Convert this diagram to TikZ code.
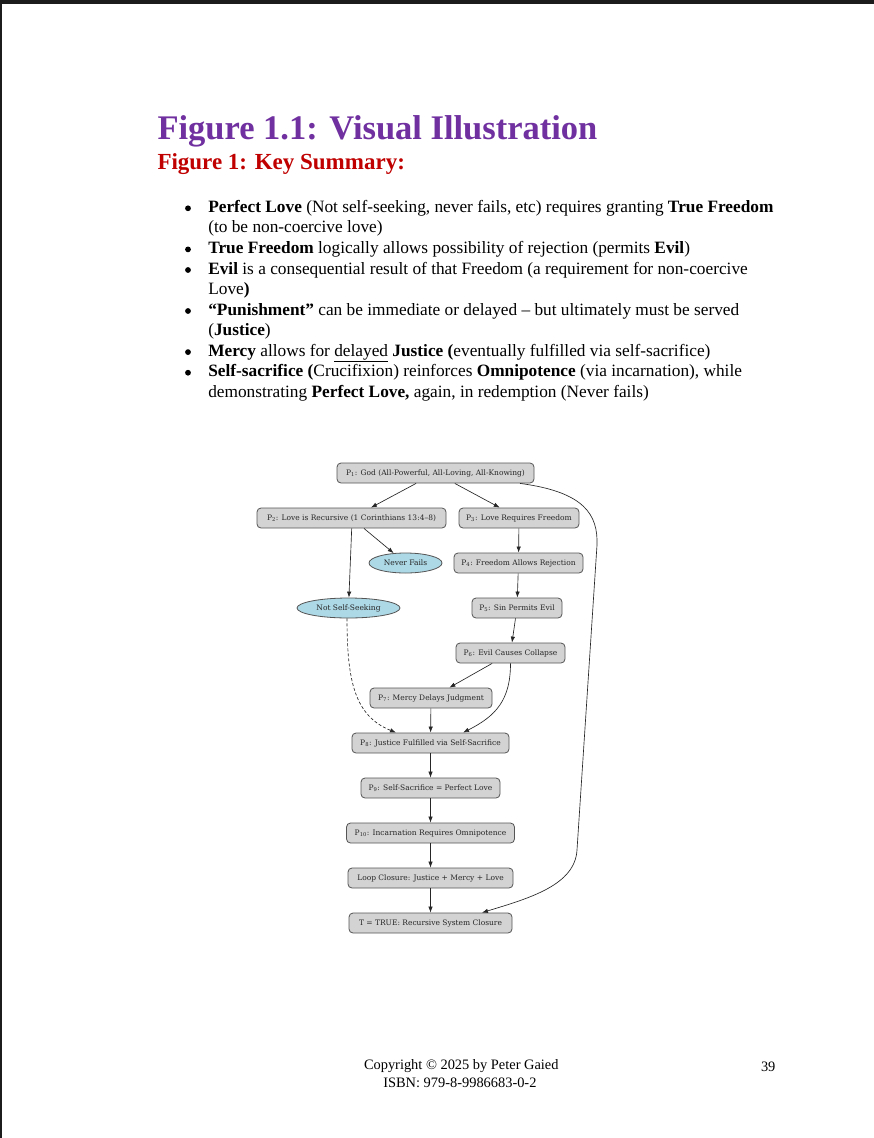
\documentclass[tikz,border=0pt]{standalone}
\usepackage{fontspec}
\setmainfont{Liberation Serif}
\newfontfamily\dvserif{DejaVu Serif}
\usetikzlibrary{shapes.geometric,arrows.meta}
\definecolor{titlepurple}{HTML}{7030A0}
\definecolor{titlered}{HTML}{C00000}
\definecolor{boxfill}{HTML}{D3D3D3}
\definecolor{boxline}{HTML}{555555}
\definecolor{ellfill}{HTML}{ADD8E6}
\definecolor{pageedge}{HTML}{1C1C1C}
\newcommand{\Psub}[1]{P\textsubscript{#1}}
\begin{document}
\begin{tikzpicture}[x=1pt,y=-1pt,
  txt/.style={anchor=base west,inner sep=0pt,outer sep=0pt,font=\fontsize{17.3}{20}\selectfont},
  bulletdot/.style={circle,fill=black,inner sep=0pt,minimum size=5.8pt},
  foot/.style={anchor=base west,inner sep=0pt,outer sep=0pt,font=\fontsize{14.4}{17}\selectfont},
  pbox/.style={draw=boxline,fill=boxfill,rounded corners=4pt,line width=0.8pt,minimum height=20pt,inner sep=0pt,font=\dvserif\fontsize{7.5}{9}\selectfont,text=black!85},
  pell/.style={ellipse,draw=boxline,fill=ellfill,line width=0.8pt,minimum height=20pt,inner sep=0pt,font=\dvserif\fontsize{7.5}{9}\selectfont,text=black!85},
  conn/.style={draw=black!85,line width=0.65pt,-{Latex[length=6pt,width=4.4pt]}}
]
\useasboundingbox (0,0) rectangle (874,1138);
\fill[white] (0,0) rectangle (874,1138);
\fill[pageedge] (0,0) rectangle (874,4);
\fill[pageedge] (0,0) rectangle (1.5,1138);

% titles
\node[anchor=base west,inner sep=0pt,font=\bfseries\fontsize{34.5}{40}\selectfont,text=titlepurple] (title) at (157.3,139.3) {Figure 1.1: Visual Illustration};
\node[anchor=base west,inner sep=0pt,font=\bfseries\fontsize{23}{27}\selectfont,text=titlered] (subtitle) at (157.3,169.3) {Figure 1: Key Summary:};

% bullets
\foreach \yy/\nm in {212.3/b1,253.4/b2,274.0/b3,315.0/b4,356.1/b5,376.7/b6}
  \node[bulletdot] (\nm) at (188,\yy-4) {};
\node[txt] (l1) at (208.3,212.3) {\textbf{Perfect Love} (Not self-seeking, never fails, etc) requires granting \textbf{True Freedom}};
\node[txt] (l2) at (208.3,232.9) {(to be non-coercive love)};
\node[txt] (l3) at (208.3,253.4) {\textbf{True Freedom} logically allows possibility of rejection (permits \textbf{Evil})};
\node[txt] (l4) at (208.3,274.0) {\textbf{Evil} is a consequential result of that Freedom (a requirement for non-coercive};
\node[txt] (l5) at (208.3,294.5) {Love\textbf{)}};
\node[txt] (l6) at (208.3,315.0) {\textbf{“Punishment”} can be immediate or delayed – but ultimately must be served};
\node[txt] (l7) at (208.3,335.6) {(\textbf{Justice})};
\node[txt] (l8) at (208.3,356.1) {\textbf{Mercy} allows for \underline{delayed} \textbf{Justice (}eventually fulfilled via self-sacrifice)};
\node[txt] (l9) at (208.3,376.7) {\textbf{Self-sacrifice (}Crucifixion) reinforces \textbf{Omnipotence} (via incarnation), while};
\node[txt] (l10) at (208.3,397.2) {demonstrating \textbf{Perfect Love,} again, in redemption (Never fails)};

% diagram nodes
\node[pbox,minimum width=197pt] (p1) at (435.5,473) {\Psub{1}: God (All-Powerful, All-Loving, All-Knowing)};
\node[pbox,minimum width=189pt] (p2) at (351.5,518) {\Psub{2}: Love is Recursive (1 Corinthians 13:4–8)};
\node[pbox,minimum width=120pt] (p3) at (519,518) {\Psub{3}: Love Requires Freedom};
\node[pell,minimum width=73pt] (nf) at (405.5,563) {Never Fails};
\node[pbox,minimum width=129pt] (p4) at (518.5,563) {\Psub{4}: Freedom Allows Rejection};
\node[pell,minimum width=103pt] (nss) at (348.5,608) {Not Self-Seeking};
\node[pbox,minimum width=90pt] (p5) at (517,608) {\Psub{5}: Sin Permits Evil};
\node[pbox,minimum width=109pt] (p6) at (510.5,653) {\Psub{6}: Evil Causes Collapse};
\node[pbox,minimum width=122pt] (p7) at (431,698) {\Psub{7}: Mercy Delays Judgment};
\node[pbox,minimum width=157pt] (p8) at (430.5,743) {\Psub{8}: Justice Fulfilled via Self-Sacrifice};
\node[pbox,minimum width=139pt] (p9) at (430.5,788) {\Psub{9}: Self-Sacrifice = Perfect Love};
\node[pbox,minimum width=168pt] (p10) at (430.5,833) {\Psub{10}: Incarnation Requires Omnipotence};
\node[pbox,minimum width=165pt] (loop) at (430.5,878) {Loop Closure: Justice + Mercy + Love};
\node[pbox,minimum width=163pt] (t) at (430.5,923) {T = TRUE: Recursive System Closure};

% connectors
\draw[conn] (p1) -- (p2);
\draw[conn] (p1) -- (p3);
\draw[conn] (p2) -- (nf);
\draw[conn] ([xshift=0.2pt]p2.south) -- (nss);
\draw[conn] (p3) -- (p4);
\draw[conn] (p4) -- (p5);
\draw[conn] (p5) -- (p6);
\draw[conn] (p6) -- (p7);
\draw[conn] (p6.south) .. controls (510.5,700) and (496,716) .. ([xshift=32.5pt]p8.north);
\draw[conn] (p7) -- (p8);
\draw[conn,dash pattern=on 3pt off 2pt] ([xshift=-1.5pt]nss.south) .. controls (347,682) and (355,716) .. ([xshift=-34.5pt]p8.north);
\draw[conn] (p8) -- (p9);
\draw[conn] (p9) -- (p10);
\draw[conn] (p10) -- (loop);
\draw[conn] (loop) -- (t);
\draw[conn] ([xshift=84.5pt]p1.south) .. controls (585,492) and (598,515) .. (597,545) -- (577,850) .. controls (575,885) and (530,898) .. ([xshift=51.5pt]t.north);

% footer
\node[foot] (copy) at (364,1069) {Copyright © 2025 by Peter Gaied};
\node[foot] (isbn) at (383.3,1087) {ISBN: 979-8-9986683-0-2};
\node[foot] (page) at (761,1071.5) {39};
\end{tikzpicture}
\end{document}
